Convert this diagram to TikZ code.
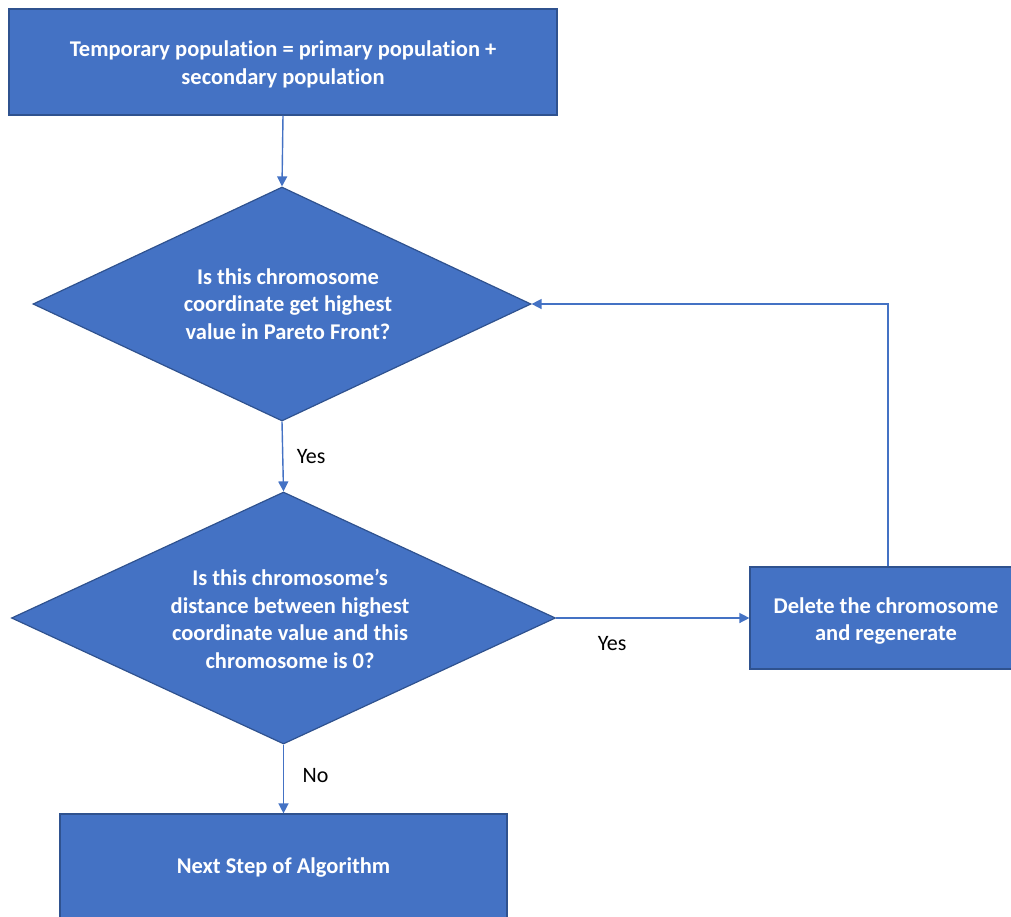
\documentclass[tikz,border=0pt]{standalone}
\usepackage{fontspec}
\setmainfont[Ligatures=NoCommon]{Carlito}
\usetikzlibrary{shapes.geometric,arrows.meta}
\definecolor{boxfill}{HTML}{4472C4}
\definecolor{boxedge}{HTML}{2F528F}
\begin{document}
\begin{tikzpicture}[x=1pt,y=-1pt,
  procbox/.style={draw=boxedge,fill=boxfill,line width=1.2pt,inner sep=0pt},
  decision/.style={diamond,draw=boxedge,fill=boxfill,line width=1.2pt,inner sep=0pt,aspect=1},
  boxtext/.style={text=white,font=\fontsize{22.5}{27.5}\selectfont\bfseries,align=center},
  flow/.style={draw=boxfill,line width=1.4pt,-{Triangle[length=10pt,width=10pt]}},
  answer/.style={font=\fontsize{22}{26}\selectfont,text=black}]
\useasboundingbox (0,0) rectangle (1011,916);

% process boxes
\node[procbox,minimum width=548pt,minimum height=106pt] (start) at (283,62) {};
\node[boxtext] at (283,64.5) {Temporary population = primary population +\\secondary population};

\node[procbox,minimum width=276pt,minimum height=102pt] (del) at (888,618) {};
\node[boxtext] at (886,621) {Delete the chromosome\\and regenerate};

\node[procbox,minimum width=447pt,minimum height=104pt] (next) at (283.5,866) {};
\node[boxtext] at (283.5,867) {Next Step of Algorithm};

% decisions
\node[decision,minimum width=498pt,minimum height=234pt] (q1) at (282,304) {};
\node[boxtext] at (288,304) {Is this chromosome\\coordinate get highest\\value in Pareto Front?};

\node[decision,minimum width=544pt,minimum height=252pt] (q2) at (283.5,618) {};
\node[boxtext] at (290,619) {Is this chromosome’s\\distance between highest\\coordinate value and this\\chromosome is 0?};

% connectors
\draw[flow] (start.south) -- (q1.north);
\draw[flow] (q1.south) -- (q2.north) node[answer,pos=0.5,right=10pt] {Yes};
\draw[flow] (q2.east) -- (del.west) node[answer,pos=0.29,below=14pt] {Yes};
\draw[flow] (del.north) |- (q1.east);
\draw[flow] (q2.south) -- (next.north) node[answer,pos=0.45,right=15pt] {No};
\end{tikzpicture}
\end{document}
